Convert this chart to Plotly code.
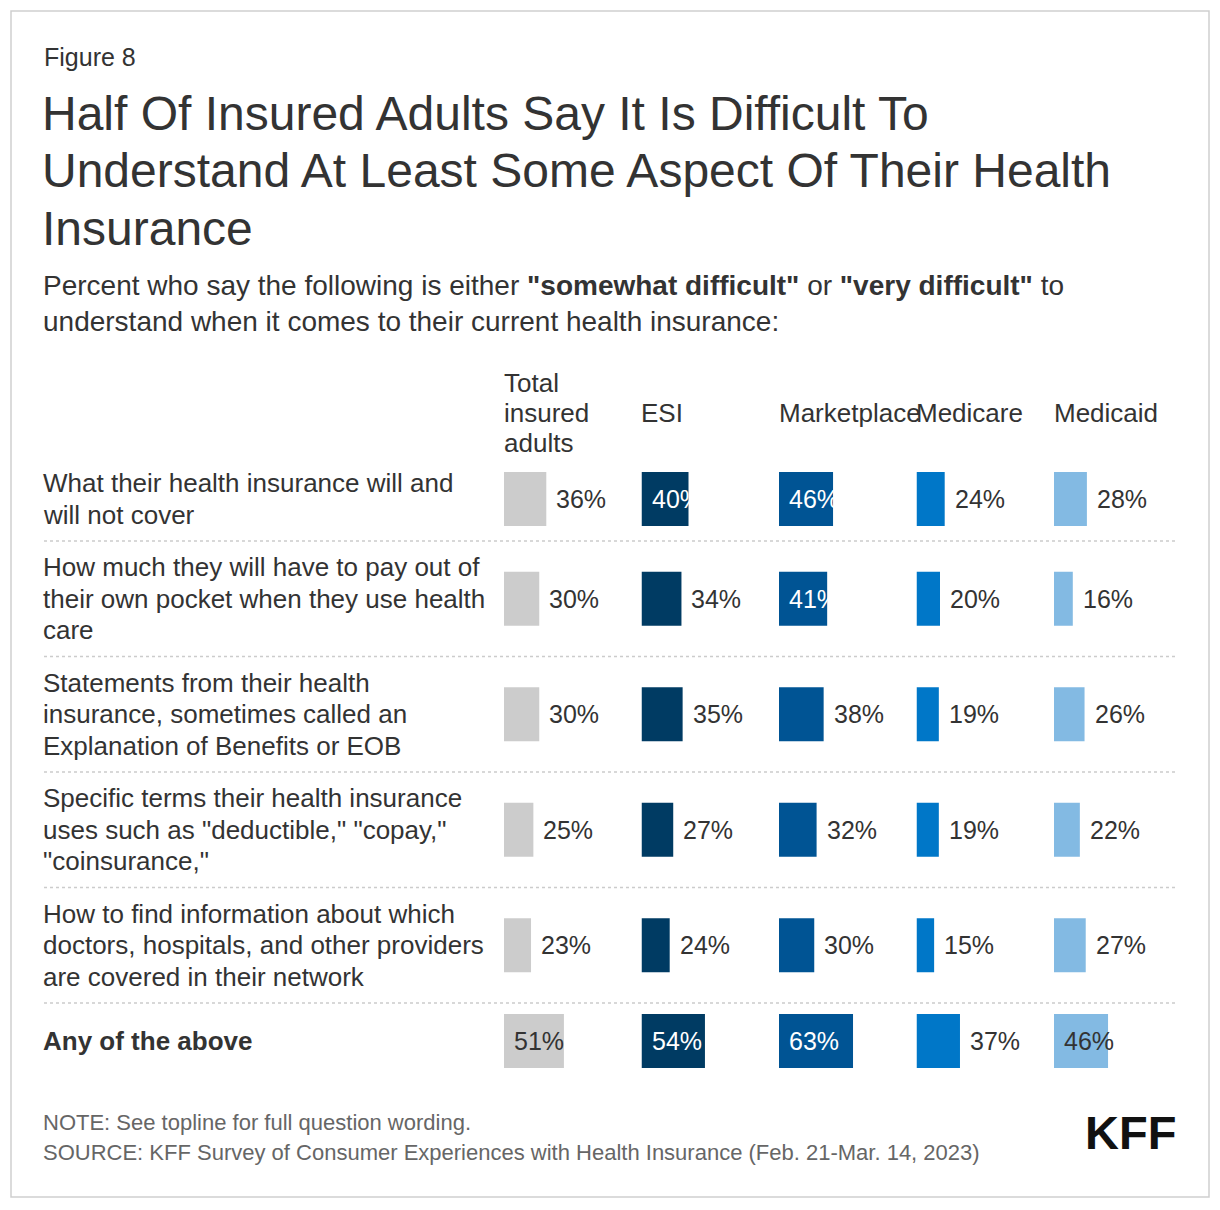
import plotly.graph_objects as go

W, H = 1220, 1210
FONT = "Liberation Sans, Arial, Helvetica, sans-serif"
TXT = "#333333"

# ---------------- data ----------------
row_labels = [
    ["What their health insurance will and", "will not cover"],
    ["How much they will have to pay out of", "their own pocket when they use health", "care"],
    ["Statements from their health", "insurance, sometimes called an", "Explanation of Benefits or EOB"],
    ["Specific terms their health insurance", "uses such as \"deductible,\" \"copay,\"", "\"coinsurance,\""],
    ["How to find information about which", "doctors, hospitals, and other providers", "are covered in their network"],
    ["<b>Any of the above</b>"],
]
group_headers = [["Total", "insured", "adults"], ["ESI"], ["Marketplace"], ["Medicare"], ["Medicaid"]]

total = [36, 30, 30, 25, 23, 51]
esi = [40, 34, 35, 27, 24, 54]
marketplace = [46, 41, 38, 32, 30, 63]
medicare = [24, 20, 19, 19, 15, 37]
medicaid = [28, 16, 26, 22, 27, 46]

series = [total, esi, marketplace, medicare, medicaid]
colors = ["#CCCCCC", "#003B63", "#005494", "#0077C8", "#83BAE3"]
inside_text_colors = [TXT, "#FFFFFF", "#FFFFFF", "#FFFFFF", TXT]

title_lines = [
    "Half Of Insured Adults Say It Is Difficult To",
    "Understand At Least Some Aspect Of Their Health",
    "Insurance",
]
subtitle_lines = [
    "Percent who say the following is either <b>\"somewhat difficult\"</b> or <b>\"very difficult\"</b> to",
    "understand when it comes to their current health insurance:",
]
note_lines = [
    "NOTE: See topline for full question wording.",
    "SOURCE: KFF Survey of Consumer Experiences with Health Insurance (Feb. 21-Mar. 14, 2023)",
]

# ---------------- layout geometry (pixels) ----------------
TABLE_TOP = 457
LINE_H = 31.5
ROW_PAD = 21
ROW_MIN = 76
BAR_H = 54
COL_X0 = [504 + 137.5 * i for i in range(5)]
COL_W = 117.5  # pixels for 100%

row_tops, row_centers = [], []
y = TABLE_TOP
for lines in row_labels:
    h = max(len(lines) * LINE_H + ROW_PAD, ROW_MIN)
    row_tops.append(y)
    row_centers.append(y + h / 2)
    y += h
table_bottom = y

fig = go.Figure()

layout_axes = {}
for i, vals in enumerate(series):
    ax = "" if i == 0 else str(i + 1)
    fig.add_trace(go.Bar(
        x=vals, y=row_centers, orientation="h", width=BAR_H,
        marker=dict(color=colors[i], line=dict(width=0)),
        xaxis="x" + ax, yaxis="y", hoverinfo="skip", showlegend=False,
    ))
    layout_axes["xaxis" + ax] = dict(
        domain=[COL_X0[i] / W, (COL_X0[i] + COL_W) / W], range=[0, 100],
        visible=False, fixedrange=True,
    )

annotations = []


def add_text(px, py, text, size, color=TXT, xanchor="left", yanchor="middle", **kw):
    annotations.append(dict(
        x=px / W, xref="paper", y=py, yref="y", text=text, showarrow=False,
        xanchor=xanchor, yanchor=yanchor, align="left",
        font=dict(family=FONT, size=size, color=color), **kw,
    ))


# figure label, title, subtitle
add_text(42, 57, "Figure 8", 25)
for k, t in enumerate(title_lines):
    add_text(40, 113 + k * 57.5, t, 48)
for k, t in enumerate(subtitle_lines):
    add_text(41, 285 + k * 36, t, 28)

# column headers
for i, lines in enumerate(group_headers):
    n = len(lines)
    for k, t in enumerate(lines):
        add_text(COL_X0[i] - 2.5, 413 + (k - (n - 1) / 2) * 30, t, 26)

# row labels
for r, lines in enumerate(row_labels):
    n = len(lines)
    for k, t in enumerate(lines):
        add_text(41, row_centers[r] + (k - (n - 1) / 2) * LINE_H, t, 26)

# value labels
for i, vals in enumerate(series):
    ax = "x" if i == 0 else "x" + str(i + 1)
    for r, v in enumerate(vals):
        inside = v >= 40
        annotations.append(dict(
            x=0 if inside else v, xref=ax, y=row_centers[r], yref="y",
            text=f"{v}%", showarrow=False, xanchor="left", yanchor="middle",
            xshift=8,
            font=dict(family=FONT, size=25, color=inside_text_colors[i] if inside else TXT),
        ))

# notes + logo
for k, t in enumerate(note_lines):
    add_text(41, 1122 + k * 30, t, 22, color="#666666")
add_text(1178, 1132, "<b>KFF</b>", 47, color="#111111", xanchor="right")

shapes = [
    dict(type="rect", xref="paper", yref="paper", x0=11 / W, x1=1209 / W,
         y0=1 - 1197 / H, y1=1 - 11 / H, line=dict(color="#CFCFCF", width=1.5)),
]
for r in range(1, len(row_labels)):
    yy = row_tops[r]
    shapes.append(dict(type="line", xref="paper", yref="y", x0=44 / W, x1=1176 / W,
                       y0=yy, y1=yy, line=dict(color="#CCCCCC", width=1.5, dash="dot")))

fig.update_layout(
    width=W, height=H,
    margin=dict(l=0, r=0, t=0, b=0),
    paper_bgcolor="white", plot_bgcolor="rgba(0,0,0,0)",
    barmode="overlay",
    yaxis=dict(domain=[0, 1], range=[H, 0], visible=False, fixedrange=True),
    annotations=annotations,
    shapes=shapes,
    showlegend=False,
    **layout_axes,
)

fig.write_html("out.html", config={"displayModeBar": False},
               post_script="document.body.style.margin='0';document.body.style.overflow='hidden';")
